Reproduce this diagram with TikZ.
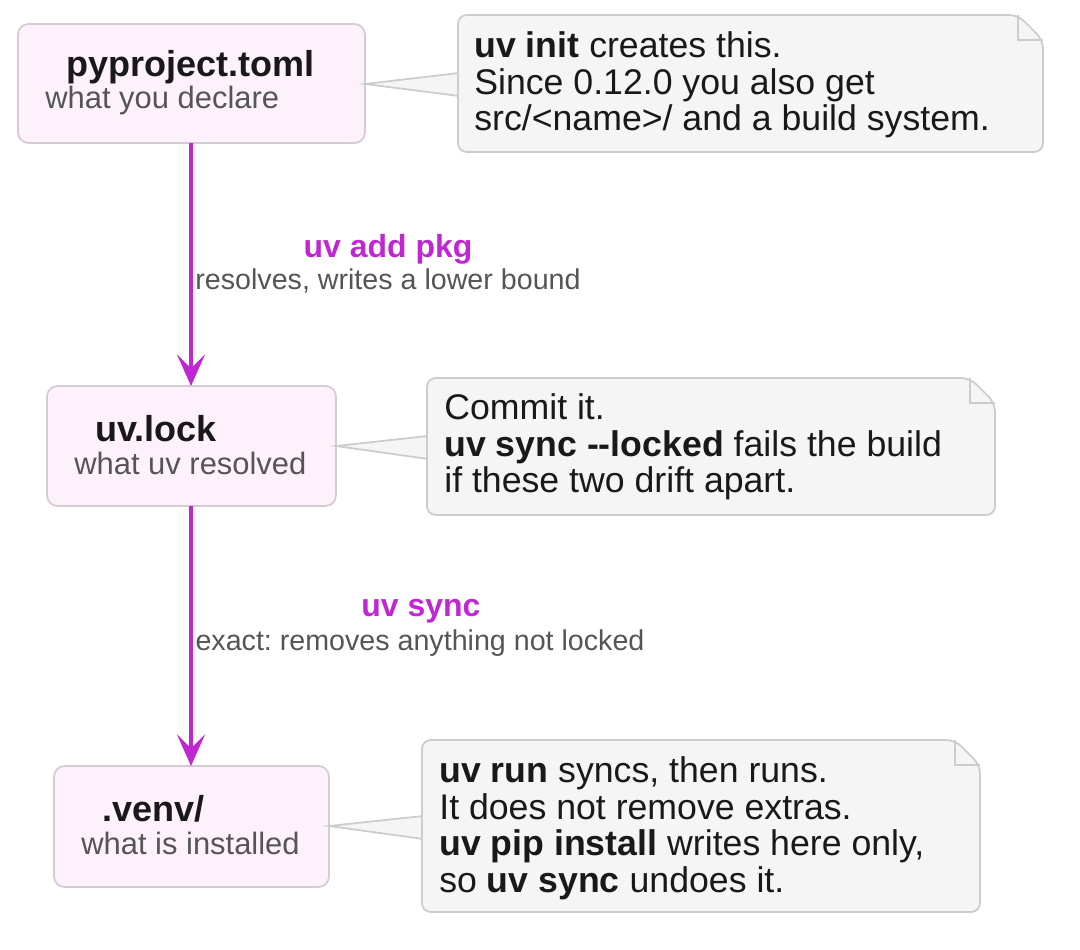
\documentclass[tikz,border=0pt]{standalone}
\usepackage{fontspec}
\setmainfont{Liberation Sans}
\usetikzlibrary{positioning,calc,arrows.meta}
\definecolor{boxfill}{HTML}{FDF2FC}
\definecolor{boxline}{HTML}{D5CCD3}
\definecolor{notefill}{HTML}{F5F5F5}
\definecolor{noteline}{HTML}{CCCCCC}
\definecolor{flow}{HTML}{C026D3}
\definecolor{subtext}{HTML}{555555}
\tikzset{
  box/.style={draw=boxline, fill=boxfill, line width=1pt, rounded corners=6pt},
  title/.style={anchor=west, inner sep=0pt, font=\fontsize{20.5}{24}\selectfont\bfseries, text=black!90},
  sub/.style={anchor=west, inner sep=0pt, font=\fontsize{17.6}{20}\selectfont, text=subtext},
  note/.style={anchor=north west, inner sep=0pt, align=left, font=\fontsize{20.3}{21}\selectfont, text=black!90},
  notebg/.style={draw=noteline, fill=notefill, line width=1pt, rounded corners=5pt},
  lead/.style={notebg, rounded corners=0pt},
  flowline/.style={flow, line width=2pt, -{Stealth[length=18pt, width=16pt, inset=8pt]}},
  cmd/.style={inner sep=0pt, font=\fontsize{18.2}{20}\selectfont\bfseries, text=flow},
  info/.style={inner sep=0pt, font=\fontsize{16.3}{18}\selectfont\frenchspacing, text=subtext}
}
\newcommand{\notebox}[4]{% left, top, right, bottom
  \draw[notebg] (#1,#2) -- (#3-25,#2) -- (#3,#2+25) -- (#3,#4) -- (#1,#4) -- cycle;
  \draw[noteline, line width=1pt] (#3-25,#2) -- (#3-25,#2+25) -- (#3,#2+25);}
\begin{document}
\begin{tikzpicture}[x=0.02cm, y=-0.02cm]
	\useasboundingbox (0,0) rectangle (1080,950);

	% declared file
	\draw[box] (18,24) rectangle (365,143);
	\coordinate (proj s) at (191,143);
	\node[title] (projt) at (66,67) {pyproject.toml};
	\node[sub] (projs) at (45,101) {what you declare};

	% lock file
	\draw[box] (47,386) rectangle (336,506);
	\coordinate (lock n) at (191,386);
	\coordinate (lock s) at (191,506);
	\node[title] (lockt) at (95,429) {uv.lock};
	\node[sub] (locks) at (74,463) {what uv resolved};

	% environment
	\draw[box] (54,766) rectangle (329,887);
	\coordinate (venv n) at (191,766);
	\node[title] (venvt) at (102,809) {.venv/};
	\node[sub] (venvs) at (81,843) {what is installed};

	% notes
	\draw[lead] (365,84) -- (459,73) -- (459,96) -- cycle;
	\notebox{458}{15}{1043}{152}
	\node[note] (n1) at (474,31) {\textbf{uv init} creates this.\\Since 0.12.0 you also get\\src/<name>/ and a build system.};

	\draw[lead] (336,446) -- (428,436) -- (428,459) -- cycle;
	\notebox{427}{378}{995}{515}
	\node[note] (n2) at (444,393) {Commit it.\\\textbf{uv sync {-}{-}locked} fails the build\\if these two drift apart.};

	\draw[lead] (329,826) -- (423,816) -- (423,839) -- cycle;
	\notebox{422}{740}{980}{912}
	\node[note] (n3) at (439,756) {\textbf{uv run} syncs, then runs.\\It does not remove extras.\\\textbf{uv pip install} writes here only,\\so \textbf{uv sync} undoes it.};

	% flow
	\draw[flowline] (proj s) -- (lock n);
	\draw[flowline] (lock s) -- (venv n);
	\node[cmd] (add) at (388,249) {uv add pkg};
	\node[info] (addi) at (388,281) {resolves, writes a lower bound};
	\node[cmd] (sync) at (421,611) {uv sync};
	\node[info] (synci) at (420,643) {exact: removes anything not locked};
\end{tikzpicture}
\end{document}
